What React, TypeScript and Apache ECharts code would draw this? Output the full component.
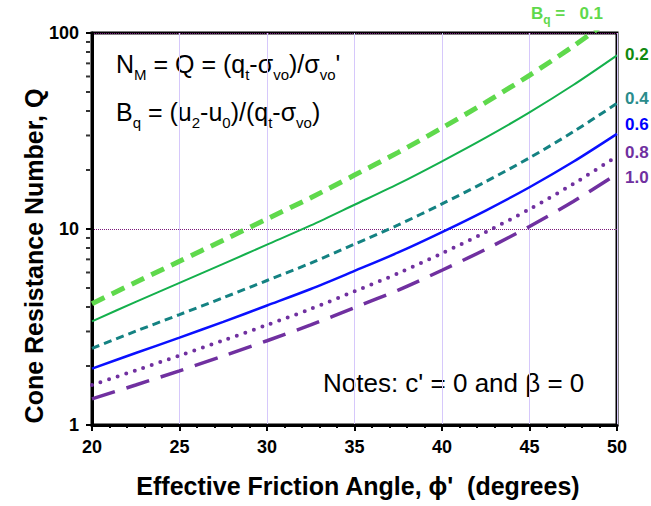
import React, { useEffect, useRef } from "react";
import * as echarts from "echarts";

// Effective friction angle, degrees
const phiDeg = [20, 22.5, 25, 27.5, 30, 32.5, 35, 37.5, 40, 42.5, 45, 47.5, 50];

// Cone resistance number Q for each pore pressure parameter Bq
const qBq01 = [4.16, 5.35, 6.85, 8.77, 11.25, 14.44, 18.84, 24.61, 32.81, 44.27, 60.85, 85.66, 123.9];
const qBq02 = [3.38, 4.25, 5.31, 6.64, 8.32, 10.43, 13.3, 16.99, 22.16, 29.26, 39.37, 54.29, 76.93];
const qBq04 = [2.46, 3.01, 3.66, 4.46, 5.46, 6.7, 8.37, 10.49, 13.44, 17.44, 23.08, 31.33, 43.76];
const qBq06 = [1.94, 2.33, 2.79, 3.36, 4.07, 4.94, 6.11, 7.59, 9.64, 12.42, 16.33, 22.02, 30.57];
const qBq08 = [1.6, 1.9, 2.26, 2.7, 3.24, 3.91, 4.81, 5.94, 7.52, 9.64, 12.63, 16.98, 23.5];
const qBq10 = [1.36, 1.6, 1.89, 2.25, 2.69, 3.24, 3.97, 4.88, 6.16, 7.88, 10.3, 13.81, 19.08];

const bqLabels = ["0.1", "0.2", "0.4", "0.6", "0.8", "1.0"];

// Minor log ticks on the Q axis
const yMinorTicks = [2, 3, 4, 5, 6, 7, 8, 9, 20, 30, 40, 50, 60, 70, 80, 90];

const FONT = "'Liberation Sans', Arial, sans-serif";

function pairs(vals: number[]) {
  return phiDeg.map((p, i) => [p, vals[i]]);
}

export default function App() {
  const ref = useRef<HTMLDivElement>(null);

  useEffect(() => {
    if (!ref.current) return;
    const chart = echarts.init(ref.current, undefined, { renderer: "svg" });

    const endLabel = (text: string, color: string, dy: number) => ({
      show: true,
      formatter: text,
      color,
      fontFamily: FONT,
      fontWeight: "bold",
      fontSize: 17,
      distance: 8,
      offset: [0, dy],
    });

    const sub = { fontSize: 15, lineHeight: 15, verticalAlign: "bottom", fontFamily: FONT, fill: "#000" };
    const main = { fontSize: 25, lineHeight: 36, fontFamily: FONT, fill: "#000" };

    chart.setOption({
      animation: false,
      backgroundColor: "#fff",
      grid: {
        left: 92,
        right: 34,
        top: 33,
        bottom: 81,
        show: true,
        borderColor: "#000",
        borderWidth: 3,
        backgroundColor: "transparent",
      },
      xAxis: {
        type: "value",
        min: 20,
        max: 50,
        interval: 5,
        axisLine: { show: true, lineStyle: { color: "#000", width: 3 } },
        axisTick: { show: true, length: 6, lineStyle: { color: "#000", width: 2 } },
        minorTick: { show: true, splitNumber: 5, length: 3, lineStyle: { color: "#000", width: 2 } },
        splitLine: { show: true, lineStyle: { color: "#d6c8fb", width: 1 } },
        axisLabel: { color: "#000", fontFamily: FONT, fontWeight: "bold", fontSize: 18, margin: 13 },
      },
      yAxis: {
        type: "log",
        logBase: 10,
        min: 1,
        max: 100,
        axisLine: { show: true, lineStyle: { color: "#000", width: 3 } },
        axisTick: { show: true, length: 6, lineStyle: { color: "#000", width: 2 } },
        splitLine: { show: true, lineStyle: { color: "#7a1a7a", width: 1, type: [1, 1] } },
        axisLabel: { color: "#000", fontFamily: FONT, fontWeight: "bold", fontSize: 18, margin: 13 },
      },
      series: [
        {
          type: "scatter",
          data: yMinorTicks.map((v) => [20, v]),
          symbol: "rect",
          symbolSize: [4, 2],
          symbolOffset: [-4, 0],
          itemStyle: { color: "#000" },
          silent: true,
          z: 5,
        },
        {
          type: "line",
          name: bqLabels[0],
          data: pairs(qBq01),
          smooth: 0.3,
          showSymbol: false,
          clip: true,
          lineStyle: { color: "#5fd94c", width: 5, type: [14, 8] },
        },
        {
          type: "line",
          name: bqLabels[1],
          data: pairs(qBq02),
          smooth: 0.3,
          showSymbol: false,
          lineStyle: { color: "#14b04c", width: 2 },
          endLabel: endLabel(bqLabels[1], "#108a10", -1),
        },
        {
          type: "line",
          name: bqLabels[2],
          data: pairs(qBq04),
          smooth: 0.3,
          showSymbol: false,
          lineStyle: { color: "#148282", width: 3, type: [8, 5] },
          endLabel: endLabel(bqLabels[2], "#2a8c8c", -5),
        },
        {
          type: "line",
          name: bqLabels[3],
          data: pairs(qBq06),
          smooth: 0.3,
          showSymbol: false,
          lineStyle: { color: "#0a10ff", width: 2.5 },
          endLabel: endLabel(bqLabels[3], "#0000ff", -9),
        },
        {
          type: "line",
          name: bqLabels[4],
          data: pairs(qBq08),
          smooth: 0.3,
          showSymbol: false,
          lineStyle: { color: "#7030a0", width: 4, type: [0, 9], cap: "round" },
          endLabel: endLabel(bqLabels[4], "#7030a0", -4),
        },
        {
          type: "line",
          name: bqLabels[5],
          data: pairs(qBq10),
          smooth: 0.3,
          showSymbol: false,
          lineStyle: { color: "#7030a0", width: 3.5, type: [24, 12] },
          endLabel: endLabel(bqLabels[5], "#7030a0", 3),
        },
      ],
      graphic: [
        {
          type: "text",
          left: 531,
          top: 5,
          style: {
            text: "{b|B}{s|q}{b| =   " + bqLabels[0] + "}",
            rich: {
              b: { fontSize: 17, lineHeight: 25, fontWeight: "bold", fontFamily: FONT, fill: "#5fd94c" },
              s: { fontSize: 12, lineHeight: 12, verticalAlign: "bottom", fontWeight: "bold", fontFamily: FONT, fill: "#5fd94c" },
            },
          },
        },
        {
          type: "text",
          left: 116,
          top: 51,
          style: {
            text: "{m|N}{s|M}{m| = Q = (q}{s|t}{m|-σ}{s|vo}{m|)/σ}{s|vo}{m|'}",
            rich: { m: main, s: sub },
          },
        },
        {
          type: "text",
          left: 116,
          top: 99,
          style: {
            text: "{m|B}{s|q}{m| = (u}{s|2}{m|-u}{s|0}{m|)/(q}{s|t}{m|-σ}{s|vo}{m|)}",
            rich: { m: main, s: sub },
          },
        },
        {
          type: "text",
          x: 323,
          y: 383,
          style: {
            text: "Notes: c' = 0 and β = 0",
            font: "26px " + FONT,
            fill: "#000",
            align: "left",
            verticalAlign: "middle",
          },
        },
        {
          type: "text",
          x: 358,
          y: 486,
          style: {
            text: "Effective Friction Angle, ϕ'  (degrees)",
            font: "bold 25px " + FONT,
            fill: "#000",
            align: "center",
            verticalAlign: "middle",
          },
        },
        {
          type: "text",
          x: 34,
          y: 256,
          rotation: Math.PI / 2,
          style: {
            text: "Cone Resistance Number, Q",
            font: "bold 25px " + FONT,
            fill: "#000",
            align: "center",
            verticalAlign: "middle",
          },
        },
      ],
    });

    return () => chart.dispose();
  }, []);

  return (
    <div
      ref={ref}
      style={{ position: "fixed", left: 0, top: 0, width: 651, height: 506 }}
    />
  );
}
